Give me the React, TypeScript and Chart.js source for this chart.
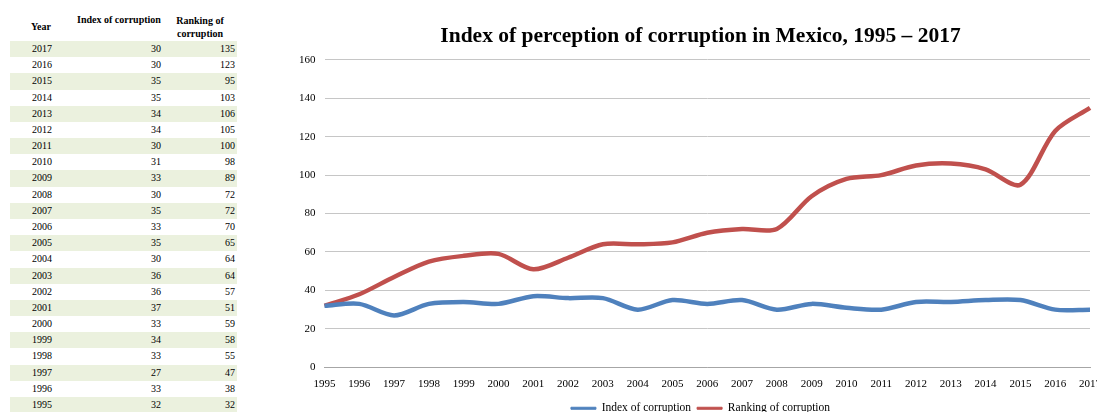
import React, { useEffect, useRef } from "react";
import { Chart, registerables } from "chart.js";

Chart.register(...registerables);

const years = ["1995","1996","1997","1998","1999","2000","2001","2002","2003","2004","2005","2006","2007","2008","2009","2010","2011","2012","2013","2014","2015","2016","2017"];
const indexValues = [32,33,27,33,34,33,37,36,36,30,35,33,35,30,33,31,30,34,34,35,35,30,30];
const rankingValues = [32,38,47,55,58,59,51,57,64,64,65,70,72,72,89,98,100,105,106,103,95,123,135];
const yTicks = [0,20,40,60,80,100,120,140,160];

const titleText = "Index of perception of corruption in Mexico, 1995 – 2017";
const indexLabel = "Index of corruption";
const rankingLabel = "Ranking of corruption";

const SERIF = "'Liberation Serif', 'Times New Roman', serif";

export default function App() {
  const canvasRef = useRef<HTMLCanvasElement | null>(null);

  useEffect(() => {
    if (!canvasRef.current) return;
    const chart = new Chart(canvasRef.current, {
      type: "line",
      data: {
        labels: years,
        datasets: [
          {
            label: indexLabel,
            data: indexValues,
            borderColor: "#4f81bd",
            backgroundColor: "#4f81bd",
            borderWidth: 4.5,
            pointRadius: 0,
            tension: 0.3,
          },
          {
            label: rankingLabel,
            data: rankingValues,
            borderColor: "#c0504d",
            backgroundColor: "#c0504d",
            borderWidth: 4.5,
            pointRadius: 0,
            tension: 0.3,
          },
        ],
      },
      options: {
        animation: false,
        responsive: false,
        maintainAspectRatio: false,
        layout: { padding: { top: 14, left: 10, right: 0, bottom: 0 } },
        plugins: {
          title: {
            display: true,
            text: titleText,
            color: "#000",
            font: { family: SERIF, size: 21.5, weight: "bold" },
            padding: { top: 10, bottom: 10 },
          },
          legend: {
            position: "bottom",
            labels: {
              boxWidth: 25,
              boxHeight: 2,
              padding: 6,
              color: "#000",
              font: { family: SERIF, size: 11.5 },
              generateLabels: (c: any) =>
                Chart.defaults.plugins.legend.labels.generateLabels(c).map((it: any) => ({ ...it, lineWidth: 1 })),
            },
          },
          tooltip: { enabled: false },
        },
        scales: {
          x: {
            offset: false,
            afterFit: (axis: any) => {
              axis.height -= 4;
            },
            grid: { display: false, drawTicks: false },
            border: { display: true, color: "#a6a6a6", width: 1 },
            ticks: {
              color: "#000",
              font: { family: SERIF, size: 11 },
              maxRotation: 0,
              autoSkip: false,
              padding: 10,
            },
          },
          y: {
            min: 0,
            max: 160,
            afterBuildTicks: (axis: any) => {
              axis.ticks = yTicks.map((v) => ({ value: v }));
            },
            grid: { color: "#c6c6c6", lineWidth: 1, drawTicks: false },
            border: { display: false },
            ticks: {
              color: "#000",
              font: { family: SERIF, size: 11 },
              padding: 9,
            },
          },
        },
      },
    });
    return () => chart.destroy();
  }, []);

  const rowTop = (i: number) => 41 + i * 16.18;
  const rows = years.map((y, i) => ({ y, idx: indexValues[i], rank: rankingValues[i] })).reverse();

  return (
    <div style={{ position: "fixed", left: 0, top: 0, width: 1097, height: 412, overflow: "hidden", background: "#fff", fontFamily: SERIF }}>
      <div style={{ position: "absolute", left: 0, top: 0, width: 250, height: 412, fontSize: 10, color: "#000" }}>
        <div style={{ position: "absolute", left: 31, top: 21, fontWeight: "bold" }}>Year</div>
        <div style={{ position: "absolute", left: 77, top: 14, fontWeight: "bold", whiteSpace: "nowrap" }}>{indexLabel}</div>
        <div style={{ position: "absolute", left: 170, width: 60, top: 14, fontWeight: "bold", textAlign: "center", lineHeight: "13px" }}>Ranking of<br />corruption</div>
        {rows.map((r, i) => (
          <div key={r.y} style={{ position: "absolute", left: 10, width: 227, top: rowTop(i), height: 16.2, background: i % 2 === 0 ? "#ebf1de" : "transparent", lineHeight: "16px" }}>
            <span style={{ position: "absolute", left: 22 }}>{r.y}</span>
            <span style={{ position: "absolute", right: 76 }}>{r.idx}</span>
            <span style={{ position: "absolute", right: 2 }}>{r.rank}</span>
          </div>
        ))}
      </div>
      <canvas ref={canvasRef} width={831} height={424} style={{ position: "absolute", left: 280, top: 0, width: 831, height: 424 }} />
    </div>
  );
}
